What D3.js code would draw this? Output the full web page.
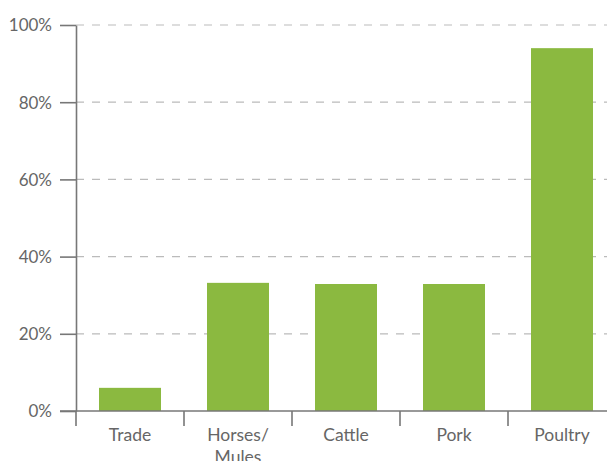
<!DOCTYPE html>
<html><head><meta charset="utf-8">
<script src="https://cdn.jsdelivr.net/npm/d3@7"></script>
<style>
html,body{margin:0;padding:0;background:#fff;overflow:hidden}
svg{display:block}
text{font-family:Lato,"Open Sans",sans-serif;fill:#666;font-size:16px}
</style></head><body>
<script>
const categories = ["Trade", "Horses/ Mules", "Cattle", "Pork", "Poultry"];
const values = [6, 33.2, 32.9, 32.9, 94.0];
const yTicks = [0, 20, 40, 60, 80, 100];

(function () {
const W = 607, H = 461;
const mLeft = 76, mTop = 25, mBottom = 411, bandW = 108;
const svg = d3.select("body").append("svg").attr("width", W).attr("height", H);

const x = d3.scaleBand().domain(categories).range([mLeft, mLeft + bandW * categories.length]).paddingInner(0.426).paddingOuter(0.213);
const y = d3.scaleLinear().domain([0, 100]).range([mBottom, mTop]);

// gridlines
svg.append("g").selectAll("line").data(yTicks.filter(d => d > 0)).join("line")
  .attr("x1", mLeft).attr("x2", W).attr("y1", d => y(d)).attr("y2", d => y(d))
  .attr("stroke", "#bbb").attr("stroke-width", 1.2).attr("stroke-dasharray", "8,8");

// bars
svg.append("g").selectAll("rect").data(categories).join("rect")
  .attr("x", d => x(d)).attr("width", x.bandwidth())
  .attr("y", (d, i) => y(values[i])).attr("height", (d, i) => mBottom - y(values[i]))
  .attr("fill", "#8bb940");

// y axis
const ya = svg.append("g").attr("transform", `translate(${mLeft},0)`)
  .call(d3.axisLeft(y).tickValues(yTicks).tickFormat(d => d + "%").tickSize(16).tickSizeOuter(0));
ya.select(".domain").attr("stroke", "#777").attr("stroke-width", 1.6);
ya.selectAll(".tick line").attr("stroke", "#777").attr("stroke-width", 1.6);
ya.selectAll(".tick text").attr("x", -24).attr("dy", "0.35em").style("font-size", "17px").attr("fill", "#666");

// x axis
const bounds = [];
for (let i = 0; i <= categories.length; i++) bounds.push(mLeft + i * bandW);
svg.append("line").attr("x1", mLeft - 16).attr("x2", W).attr("y1", mBottom).attr("y2", mBottom)
  .attr("stroke", "#777").attr("stroke-width", 1.6);
svg.append("g").selectAll("line").data(bounds).join("line")
  .attr("x1", d => d).attr("x2", d => d).attr("y1", mBottom).attr("y2", mBottom + 15)
  .attr("stroke", "#777").attr("stroke-width", 1.6);

const lab = svg.append("g").selectAll("text").data(categories).join("text")
  .attr("text-anchor", "middle").attr("x", d => x(d) + x.bandwidth() / 2).attr("y", 441)
  .style("font-size", "17.5px");
lab.each(function(d) {
  const parts = d.split(" ");
  const t = d3.select(this);
  parts.forEach((p, i) => t.append("tspan").attr("x", x(d) + x.bandwidth() / 2).attr("dy", i === 0 ? 0 : 22).text(p));
});
})();
</script>
</body></html>
